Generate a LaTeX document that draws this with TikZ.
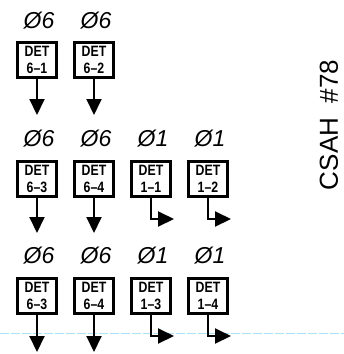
\documentclass[tikz,border=0pt]{standalone}
\usepackage{fontspec}
\setmainfont{Liberation Sans}
\newfontfamily\detfont{Liberation Sans Bold}[FakeStretch=0.82]
\newfontfamily\phasefont{Liberation Sans Italic}
\usetikzlibrary{arrows.meta}

\begin{document}
\begin{tikzpicture}[x=1pt, y=-1pt,
    phase/.style={font=\phasefont\fontsize{23}{23}\selectfont, inner sep=0pt},
    detbox/.style={draw, line width=2.9pt, minimum width=39pt, minimum height=35pt,
        inner sep=0pt, align=center, font=\detfont\fontsize{15}{16.5}\selectfont},
    detarrow/.style={line width=2pt, -{Triangle[length=16pt, width=15pt]}}]
    \useasboundingbox (0,0) rectangle (344,354);

    % Scan line
    \draw[cyan!35!white, line width=0.8pt, dash pattern=on 9pt off 2pt] (0,333) -- (344,333);

    % Top row
    \node[phase] (ph61) at (39,21) {Ø6};
    \node[phase] (ph62) at (96,21) {Ø6};
    \node[detbox] (det61) at (37,60) {DET\\6–1};
    \node[detbox] (det62) at (94,60) {DET\\6–2};
    \coordinate (end61) at (37,115);
    \coordinate (end62) at (94,115);

    % Middle row
    \node[phase] (ph63) at (39,139) {Ø6};
    \node[phase] (ph64) at (96,139) {Ø6};
    \node[phase] (ph11) at (153,139) {Ø1};
    \node[phase] (ph12) at (210,139) {Ø1};
    \node[detbox] (det63) at (37,179) {DET\\6–3};
    \node[detbox] (det64) at (94,179) {DET\\6–4};
    \node[detbox] (det11) at (151,179) {DET\\1–1};
    \node[detbox] (det12) at (208,179) {DET\\1–2};
    \coordinate (end63) at (37,233);
    \coordinate (end64) at (94,233);
    \coordinate (end11) at (174,219);
    \coordinate (end12) at (231,219);

    % Bottom row
    \node[phase] (ph63b) at (39,256) {Ø6};
    \node[phase] (ph64b) at (96,256) {Ø6};
    \node[phase] (ph13) at (153,256) {Ø1};
    \node[phase] (ph14) at (210,256) {Ø1};
    \node[detbox] (det63b) at (37,296) {DET\\6–3};
    \node[detbox] (det64b) at (94,296) {DET\\6–4};
    \node[detbox] (det13) at (151,296) {DET\\1–3};
    \node[detbox] (det14) at (208,296) {DET\\1–4};
    \coordinate (end63b) at (37,352);
    \coordinate (end64b) at (94,352);
    \coordinate (end13) at (174,336);
    \coordinate (end14) at (231,336);

    % Arrows
    \draw[detarrow] (det61.south) -- (end61);
    \draw[detarrow] (det62.south) -- (end62);
    \draw[detarrow] (det63.south) -- (end63);
    \draw[detarrow] (det64.south) -- (end64);
    \draw[detarrow] (det11.south) |- (end11);
    \draw[detarrow] (det12.south) |- (end12);
    \draw[detarrow] (det63b.south) -- (end63b);
    \draw[detarrow] (det64b.south) -- (end64b);
    \draw[detarrow] (det13.south) |- (end13);
    \draw[detarrow] (det14.south) |- (end14);

    % Road name
    \node[rotate=90, font=\fontsize{26}{26}\selectfont, inner sep=0pt] (road) at (329,125) {CSAH\ \ \#78};
\end{tikzpicture}
\end{document}
